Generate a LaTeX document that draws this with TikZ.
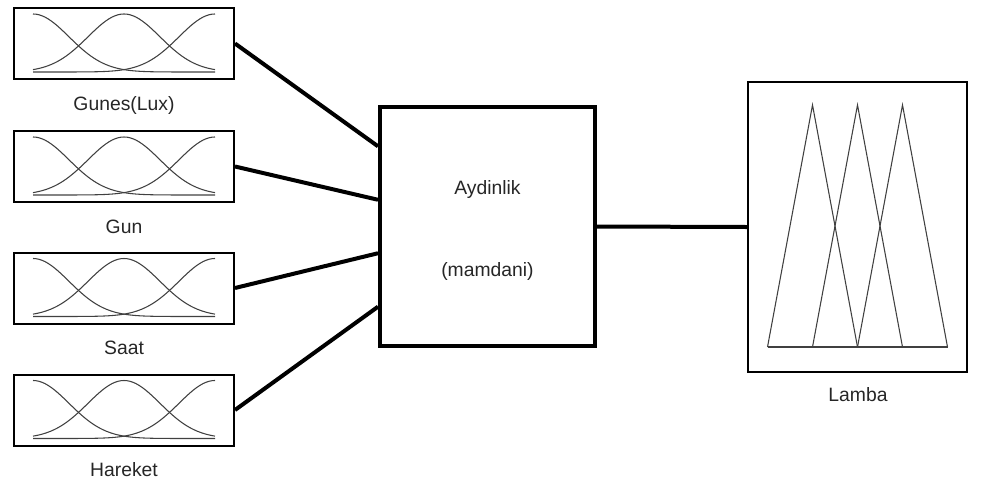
\documentclass[tikz,border=0pt]{standalone}
\usepackage{fontspec}
\setmainfont{Liberation Sans}
\usetikzlibrary{calc}
\tikzset{
  mfbox/.style={draw, line width=1.5pt, minimum width=165pt, minimum height=53.25pt, inner sep=0pt},
  fisbox/.style={draw, line width=3pt, minimum width=161.25pt, minimum height=179.25pt, inner sep=0pt},
  outbox/.style={draw, line width=1.5pt, minimum width=164.25pt, minimum height=217.5pt, inner sep=0pt},
  mfcurve/.style={line width=0.8pt, black!75},
  link/.style={line width=3pt},
  lbl/.style={anchor=base, text=black!85, inner sep=0pt}
}

\begin{document}
\begin{tikzpicture}[x=0.75pt, y=-0.75pt, every node/.style={font=\fontsize{14.5}{17}\selectfont}]
  \useasboundingbox (0,0) rectangle (984,482);
  \node[fisbox] (fis) at (487.5,226.5) {};
  \node[lbl] (fisname) at (487.5,194.5) {Aydinlik};
  \node[lbl] (fistype) at (487.5,276.5) {(mamdani)};
  \node[outbox] (out) at (857.5,227) {};
  \node[lbl] (outlabel) at (858,401.5) {Lamba};
  \foreach \i/\y/\f/\name in {1/43.5/0.17/{Gunes(Lux)}, 2/166.5/0.39/Gun, 3/288/0.61/Saat, 4/410/0.83/Hareket} {
    \node[mfbox] (in\i) at (124,\y) {};
    \node[lbl] (in\i label) at (124,\y+66.5) {\name};
    \foreach \c in {-91,0,91}
      \draw[mfcurve] plot[domain=-91:91, samples=61, smooth] ({124+\x}, {\y+28.5-58*exp(-0.5*((\x-\c)/36)^2)});
    \draw[link] (in\i.east) -- ($(fis.north west)!\f!(fis.south west)$);
  }
  \draw[link] (fis.east) -- (out.west);
  \begin{scope}[shift={(out.center)}]
    \foreach \c in {-45,0,45}
      \draw[mfcurve] (\c-45,120) -- (\c,-122) -- (\c+45,120);
    \draw[mfcurve] (-90,120) -- (90,120);
  \end{scope}
\end{tikzpicture}
\end{document}
